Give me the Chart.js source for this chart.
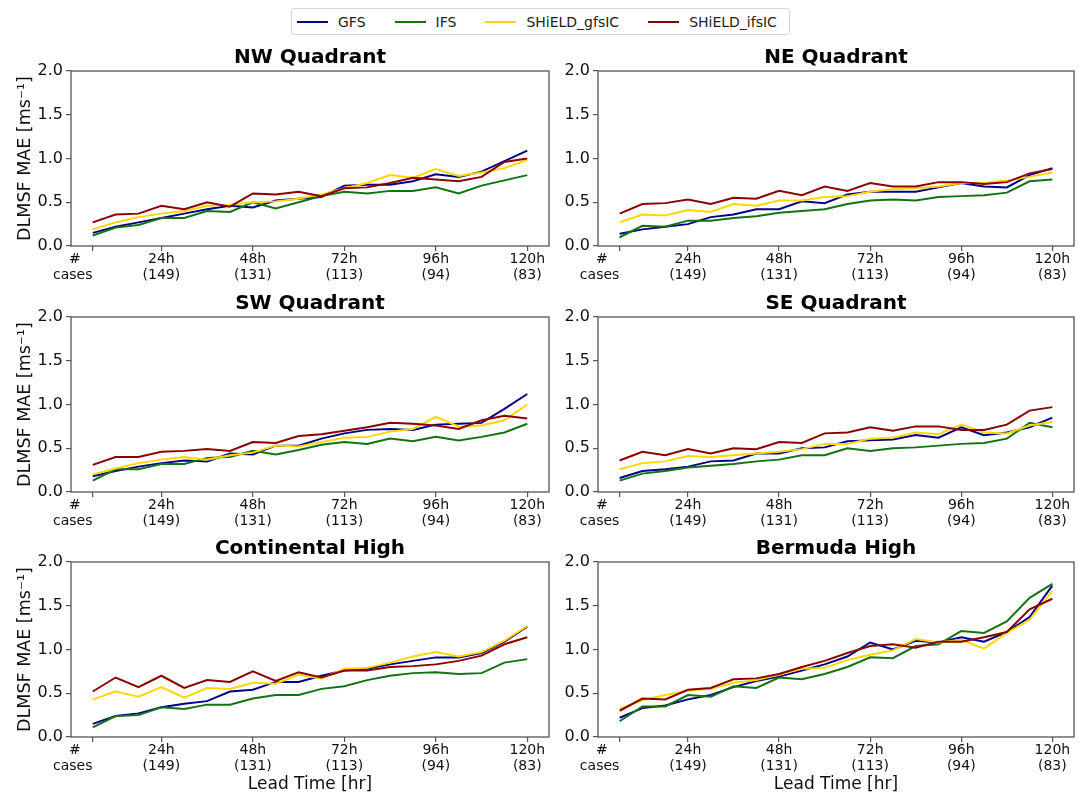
<!DOCTYPE html>
<html>
<head>
<meta charset="utf-8">
<script src="https://cdn.jsdelivr.net/npm/chart.js@4.4.1/dist/chart.umd.min.js"></script>
<style>
  body { margin: 0; background: #fff; font-family: "DejaVu Sans", sans-serif; }
  #page { position: relative; width: 1085px; height: 795px; overflow: hidden; }
  .panel { position: absolute; }
  #legend {
    position: absolute; left: 291px; top: 8px; width: 497px; height: 25px;
    border: 1px solid #d6d6d6; border-radius: 3px;
    display: flex; align-items: center; font-size: 14px; color: #222;
  }
  #legend .item { display: flex; align-items: center; margin-left: 5px; margin-right: 24px; }
  #legend .swatch { width: 31px; height: 2px; margin-right: 10px; }
</style>
</head>
<body>
<div id="page">
  <div id="legend"></div>
  <div class="panel" style="left:0;top:40px;width:560px;height:250px"><canvas id="nw"></canvas></div>
  <div class="panel" style="left:560px;top:40px;width:525px;height:250px"><canvas id="ne"></canvas></div>
  <div class="panel" style="left:0;top:286px;width:560px;height:250px"><canvas id="sw"></canvas></div>
  <div class="panel" style="left:560px;top:286px;width:525px;height:250px"><canvas id="se"></canvas></div>
  <div class="panel" style="left:0;top:531px;width:560px;height:264px"><canvas id="ch"></canvas></div>
  <div class="panel" style="left:560px;top:531px;width:525px;height:264px"><canvas id="bh"></canvas></div>
</div>
<script>
// lead times (hours) of each verification point
const leadHours = [6, 12, 18, 24, 30, 36, 42, 48, 54, 60, 66, 72, 78, 84, 90, 96, 102, 108, 114, 120];
const tickHours = [6, 24, 48, 72, 96, 120];
const tickLabels = [['#', 'cases'], ['24h', '(149)'], ['48h', '(131)'], ['72h', '(113)'], ['96h', '(94)'], ['120h', '(83)']];
const yTicks = [0, 0.5, 1.0, 1.5, 2.0];

const models = ['GFS', 'IFS', 'SHiELD_gfsIC', 'SHiELD_ifsIC'];
const modelColors = ['#00008b', '#137313', '#ffd700', '#8b0000'];

// DLMSF MAE, one array per region and model
const nwGFS = [0.15, 0.22, 0.27, 0.32, 0.37, 0.42, 0.46, 0.44, 0.52, 0.54, 0.56, 0.69, 0.70, 0.70, 0.74, 0.82, 0.79, 0.85, 0.97, 1.09];
const nwIFS = [0.12, 0.21, 0.24, 0.32, 0.32, 0.40, 0.39, 0.50, 0.43, 0.50, 0.57, 0.62, 0.60, 0.63, 0.63, 0.67, 0.60, 0.69, 0.75, 0.81];
const nwGfsIC = [0.19, 0.27, 0.33, 0.37, 0.40, 0.46, 0.47, 0.50, 0.51, 0.54, 0.59, 0.66, 0.72, 0.81, 0.78, 0.88, 0.80, 0.84, 0.89, 0.98];
const nwIfsIC = [0.27, 0.36, 0.37, 0.46, 0.42, 0.50, 0.45, 0.60, 0.59, 0.62, 0.57, 0.66, 0.67, 0.72, 0.78, 0.76, 0.74, 0.79, 0.96, 1.00];

const neGFS = [0.14, 0.19, 0.22, 0.25, 0.33, 0.36, 0.42, 0.42, 0.51, 0.49, 0.59, 0.62, 0.62, 0.62, 0.67, 0.72, 0.68, 0.67, 0.81, 0.89];
const neIFS = [0.10, 0.23, 0.22, 0.29, 0.29, 0.32, 0.34, 0.38, 0.40, 0.42, 0.48, 0.52, 0.53, 0.52, 0.56, 0.57, 0.58, 0.61, 0.74, 0.76];
const neGfsIC = [0.27, 0.36, 0.35, 0.41, 0.39, 0.48, 0.46, 0.52, 0.52, 0.56, 0.57, 0.62, 0.65, 0.66, 0.68, 0.72, 0.72, 0.75, 0.79, 0.84];
const neIfsIC = [0.37, 0.48, 0.49, 0.53, 0.48, 0.55, 0.54, 0.63, 0.58, 0.68, 0.63, 0.72, 0.68, 0.68, 0.73, 0.73, 0.71, 0.73, 0.83, 0.88];

const swGFS = [0.18, 0.24, 0.29, 0.33, 0.36, 0.35, 0.44, 0.43, 0.53, 0.53, 0.61, 0.67, 0.71, 0.72, 0.71, 0.77, 0.78, 0.79, 0.95, 1.12];
const swIFS = [0.13, 0.26, 0.26, 0.32, 0.32, 0.39, 0.40, 0.47, 0.43, 0.48, 0.54, 0.57, 0.55, 0.61, 0.58, 0.63, 0.59, 0.63, 0.68, 0.78];
const swGfsIC = [0.20, 0.27, 0.33, 0.37, 0.40, 0.37, 0.42, 0.45, 0.53, 0.52, 0.57, 0.62, 0.63, 0.69, 0.72, 0.86, 0.75, 0.76, 0.82, 1.00];
const swIfsIC = [0.31, 0.40, 0.40, 0.46, 0.47, 0.49, 0.47, 0.57, 0.56, 0.64, 0.66, 0.70, 0.74, 0.79, 0.78, 0.76, 0.72, 0.82, 0.87, 0.84];

const seGFS = [0.16, 0.24, 0.26, 0.29, 0.35, 0.36, 0.44, 0.44, 0.50, 0.51, 0.58, 0.59, 0.60, 0.65, 0.62, 0.74, 0.65, 0.68, 0.74, 0.85];
const seIFS = [0.13, 0.21, 0.24, 0.28, 0.30, 0.32, 0.35, 0.37, 0.42, 0.42, 0.50, 0.47, 0.50, 0.51, 0.53, 0.55, 0.56, 0.61, 0.79, 0.74];
const seGfsIC = [0.26, 0.33, 0.35, 0.41, 0.40, 0.42, 0.44, 0.46, 0.49, 0.55, 0.55, 0.61, 0.62, 0.68, 0.66, 0.77, 0.68, 0.67, 0.76, 0.80];
const seIfsIC = [0.36, 0.46, 0.42, 0.49, 0.44, 0.50, 0.49, 0.57, 0.56, 0.67, 0.68, 0.74, 0.70, 0.75, 0.75, 0.71, 0.71, 0.77, 0.93, 0.97];

const chGFS = [0.15, 0.24, 0.27, 0.34, 0.38, 0.41, 0.52, 0.54, 0.63, 0.63, 0.70, 0.76, 0.78, 0.83, 0.87, 0.91, 0.91, 0.96, 1.09, 1.26];
const chIFS = [0.11, 0.24, 0.25, 0.34, 0.32, 0.37, 0.37, 0.44, 0.48, 0.48, 0.55, 0.58, 0.65, 0.70, 0.73, 0.74, 0.72, 0.73, 0.85, 0.89];
const chGfsIC = [0.43, 0.52, 0.46, 0.57, 0.45, 0.56, 0.55, 0.62, 0.61, 0.71, 0.67, 0.78, 0.79, 0.85, 0.92, 0.97, 0.92, 0.97, 1.10, 1.27];
const chIfsIC = [0.52, 0.68, 0.57, 0.70, 0.56, 0.65, 0.63, 0.75, 0.64, 0.74, 0.68, 0.76, 0.76, 0.80, 0.81, 0.83, 0.87, 0.93, 1.06, 1.14];

const bhGFS = [0.22, 0.33, 0.36, 0.43, 0.48, 0.57, 0.64, 0.69, 0.76, 0.83, 0.92, 1.08, 1.00, 1.10, 1.08, 1.14, 1.09, 1.20, 1.37, 1.73];
const bhIFS = [0.18, 0.35, 0.35, 0.48, 0.46, 0.58, 0.56, 0.68, 0.66, 0.72, 0.80, 0.91, 0.90, 1.04, 1.06, 1.21, 1.19, 1.32, 1.59, 1.75];
const bhGfsIC = [0.32, 0.42, 0.48, 0.53, 0.55, 0.62, 0.65, 0.71, 0.78, 0.79, 0.88, 0.94, 0.99, 1.12, 1.08, 1.11, 1.01, 1.19, 1.34, 1.67];
const bhIfsIC = [0.30, 0.44, 0.43, 0.54, 0.56, 0.66, 0.67, 0.72, 0.80, 0.87, 0.96, 1.04, 1.06, 1.02, 1.09, 1.09, 1.14, 1.20, 1.46, 1.58];

const FONT = '"DejaVu Sans", sans-serif';
const AXIS_COLOR = '#555';
const TEXT_COLOR = '#111';

// box around the plot area (all four spines)
const frame = {
  id: 'frame',
  afterDatasetsDraw(chart) {
    const { ctx, chartArea: a } = chart;
    ctx.save();
    ctx.strokeStyle = AXIS_COLOR;
    ctx.lineWidth = 1.3;
    ctx.strokeRect(a.left, a.top, a.right - a.left, a.bottom - a.top);
    ctx.restore();
  }
};

// legend shared by all panels
const legendBox = document.getElementById('legend');
models.forEach((name, i) => {
  const item = document.createElement('div');
  item.className = 'item';
  item.innerHTML = '<span class="swatch" style="background:' + modelColors[i] + '"></span><span>' + name + '</span>';
  legendBox.appendChild(item);
});

function makePanel(id, title, series, leftCol, bottomRow) {
  new Chart(document.getElementById(id), {
    type: 'line',
    data: {
      datasets: series.map((vals, i) => ({
        label: models[i],
        data: leadHours.map((h, j) => ({ x: h, y: vals[j] })),
        borderColor: modelColors[i],
        borderWidth: 2,
        pointRadius: 0,
        fill: false,
        tension: 0,
        order: series.length - i
      }))
    },
    options: {
      responsive: true,
      maintainAspectRatio: false,
      animation: false,
      layout: { padding: { left: 0, right: 11, top: 0, bottom: 0 } },
      plugins: {
        legend: { display: false },
        tooltip: { enabled: false },
        title: {
          display: true,
          text: title,
          fullSize: false,
          color: '#000',
          font: { family: FONT, size: 20, weight: 'bold', lineHeight: 1.2 },
          padding: { top: 6, bottom: 1 }
        }
      },
      scales: {
        x: {
          type: 'linear',
          min: 0.3,
          max: 125.7,
          afterBuildTicks: (scale) => { scale.ticks = tickHours.map(v => ({ value: v })); },
          afterFit: (scale) => { scale.height = bottomRow ? 58 : 44; },
          ticks: {
            autoSkip: false,
            maxRotation: 0,
            padding: 1,
            color: TEXT_COLOR,
            font: { family: FONT, size: 14, lineHeight: 1.12 },
            // the first label sits to the left of its tick
            callback: (v, i) => i === 0 ? [tickLabels[0][0].padEnd(9), tickLabels[0][1].padEnd(14)] : tickLabels[i]
          },
          grid: { drawOnChartArea: false, drawTicks: true, tickLength: 5, color: AXIS_COLOR, lineWidth: 1.2 },
          border: { display: false },
          title: {
            display: bottomRow,
            text: 'Lead Time [hr]',
            color: TEXT_COLOR,
            font: { family: FONT, size: 17, lineHeight: 1.2 },
            padding: { top: 0, bottom: 0 }
          }
        },
        y: {
          min: 0,
          max: 2,
          afterBuildTicks: (scale) => { scale.ticks = yTicks.map(v => ({ value: v })); },
          afterFit: (scale) => { scale.width = leftCol ? 71 : 38; },
          ticks: {
            padding: 3,
            color: TEXT_COLOR,
            font: { family: FONT, size: 16 },
            callback: (v) => v.toFixed(1)
          },
          grid: { drawOnChartArea: false, drawTicks: true, tickLength: 5, color: AXIS_COLOR, lineWidth: 1.2 },
          border: { display: false },
          title: {
            display: leftCol,
            text: 'DLMSF MAE [ms⁻¹]',
            color: TEXT_COLOR,
            font: { family: FONT, size: 17.5, lineHeight: 1.2 },
            padding: { top: 15, bottom: 0 }
          }
        }
      }
    },
    plugins: [frame]
  });
}

makePanel('nw', 'NW Quadrant', [nwGFS, nwIFS, nwGfsIC, nwIfsIC], true, false);
makePanel('ne', 'NE Quadrant', [neGFS, neIFS, neGfsIC, neIfsIC], false, false);
makePanel('sw', 'SW Quadrant', [swGFS, swIFS, swGfsIC, swIfsIC], true, false);
makePanel('se', 'SE Quadrant', [seGFS, seIFS, seGfsIC, seIfsIC], false, false);
makePanel('ch', 'Continental High', [chGFS, chIFS, chGfsIC, chIfsIC], true, true);
makePanel('bh', 'Bermuda High', [bhGFS, bhIFS, bhGfsIC, bhIfsIC], false, true);
</script>
</body>
</html>
